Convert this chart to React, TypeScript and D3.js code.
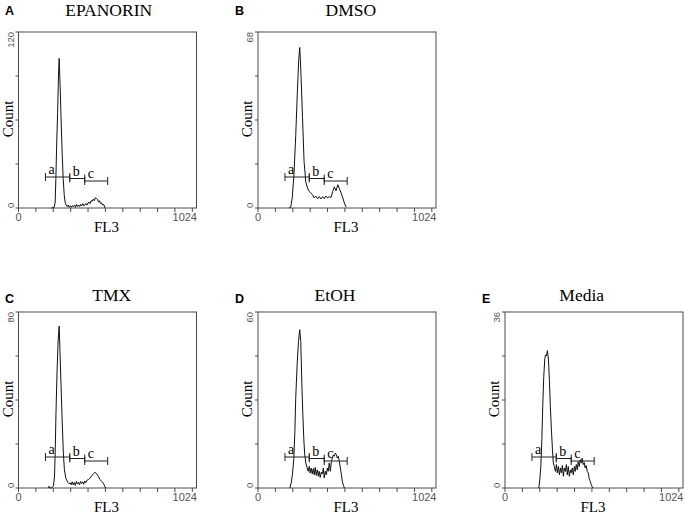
import React from "react";
import * as d3 from "d3";

// ---------- DATA ----------
const panelLetters = ["A", "B", "C", "D", "E"];
const panelTitles = ["EPANORIN", "DMSO", "TMX", "EtOH", "Media"];
const yMaxValues = [120, 68, 80, 60, 36];
const channelMax = 1024;
const xTickValues = [0, 100, 200, 300, 400, 500, 600, 700, 800, 900, 1000];
const xTickLabels = ["0", "1024"];
const xAxisLabel = "FL3";
const yAxisLabel = "Count";

// gates (FL3 channel ranges)
const gateLabels = ["a", "b", "c"];
const gateFrom = [155, 295, 381];
const gateTo = [295, 381, 513];

// histograms: [FL3 channel, count]
const epanorinHist: [number, number][] = [
  [190, 0], [205, 0.5], [211, 4], [215, 20], [220, 45], [225, 65], [230, 90], [234, 102], [239, 85],
  [245, 60], [251, 38], [257, 20], [263, 9], [268, 4], [274, 2], [280, 1], [286, 2], [292, 0.5],
  [298, 1.5], [304, 0.5], [310, 1.5], [316, 1], [322, 2], [328, 0.5], [334, 2.5], [340, 1], [346, 2],
  [352, 1], [358, 2.5], [364, 1.5], [370, 3], [376, 1.5], [382, 2], [388, 3], [394, 2], [400, 3.5],
  [406, 4], [412, 3], [418, 5], [424, 4.5], [430, 6], [436, 5], [442, 7], [448, 6.5], [454, 6],
  [460, 4], [466, 5], [472, 3], [478, 3.5], [484, 2], [490, 2.5], [496, 0.5], [500, 0],
];

const dmsoHist: [number, number][] = [
  [178, 0], [188, 0.3], [197, 3.9], [207, 13], [217, 28], [226, 44], [234, 57], [240, 62], [246, 54],
  [256, 35], [265, 18], [275, 10], [285, 7.7], [294, 6.4], [304, 5.8], [313, 5.2], [323, 3.9],
  [333, 4.6], [343, 3.6], [352, 4.4], [362, 3.5], [372, 4.4], [381, 3.6], [391, 4.6], [401, 3.9],
  [410, 4.4], [420, 4.1], [430, 6.4], [439, 8.2], [449, 6.7], [459, 9], [468, 7.5], [478, 5.8],
  [488, 3.9], [497, 1.9], [507, 0.3],
];

const tmxHist: [number, number][] = [
  [170, 0], [176, 0.8], [182, 0], [190, 0], [201, 1], [207, 5], [211, 16], [216, 35.5], [222, 53.6],
  [228, 67], [234, 73.6], [239, 61], [245, 46], [251, 31], [258, 16], [264, 8.3], [272, 4.5],
  [283, 2.6], [290, 2], [297, 2.3], [303, 1.5], [309, 2.8], [315, 1.4], [321, 2.5], [327, 1.2],
  [333, 3], [339, 1.8], [345, 2.6], [351, 1.5], [357, 3], [363, 2], [369, 2.8], [375, 1.7],
  [381, 3.2], [387, 2.4], [393, 3.5], [402, 3.8], [412, 4.5], [421, 5.6], [431, 6.5], [440, 7.1],
  [450, 6.5], [459, 5.3], [469, 3.8], [479, 3], [488, 2.2], [498, 0.5], [502, 0],
];

const etohHist: [number, number][] = [
  [183, 0], [191, 1.7], [198, 4.5], [206, 10], [212, 19], [217, 30.6], [225, 42], [233, 50], [240, 54],
  [246, 50], [252, 36], [258, 25], [264, 16], [269, 11.3], [275, 8.5], [283, 6.8], [289, 5.7],
  [295, 7.4], [300, 5.1], [306, 6.8], [312, 4.8], [318, 6.6], [323.5, 4.5], [329, 7], [335, 4.3],
  [341, 6.2], [347, 4], [352, 5.7], [358, 3.6], [364, 5.4], [370, 4.8], [376, 6.8], [381, 3.4],
  [387, 5.7], [393, 4.5], [399, 6.8], [404, 5.7], [410, 8.5], [416, 5.7], [422, 9], [428, 10.2],
  [433, 11.3], [439, 10.8], [445, 11.9], [451, 11.3], [456, 10.2], [462, 10.8], [468, 9], [474, 6.8],
  [480, 4.5], [485, 2.3], [491, 0.9], [497, 0],
];

const mediaHist: [number, number][] = [
  [194.5, 0], [200, 1.7], [206, 4.4], [212, 9.9], [217, 16.6], [223, 22.8], [229, 26.5], [233, 27.2],
  [238, 27], [244, 28.1], [250, 26.2], [255.5, 22], [261, 16.6], [267, 11.9], [273, 7.8], [278, 5.1],
  [284, 4.4], [290, 3.4], [296, 4.8], [301, 3.1], [307, 4.4], [313, 2.7], [318.5, 4.1], [324, 3.1],
  [330, 4.6], [336, 2.4], [341, 4.1], [347, 3.4], [353, 4.8], [358.5, 2.7], [364, 4.4], [370, 2.4],
  [376, 3.7], [381, 3.1], [387, 4.1], [393, 2.7], [399, 4.4], [404, 3.4], [410, 4.8], [416, 3.7],
  [421, 5.4], [427, 4.4], [433, 5.8], [439, 5.1], [444, 6.1], [450, 4.8], [456, 5.2], [461, 4.1],
  [467, 4.6], [473, 3.4], [479, 3.1], [484, 2], [490, 1.4], [496, 0.7], [502, 0.2], [507, 0],
];

const histograms = [epanorinHist, dmsoHist, tmxHist, etohHist, mediaHist];

// ---------- LAYOUT ----------
const W = 685;
const H = 513;
const PW = 178;
const PH = 176;
const panelLeft = [18.5, 258, 18.5, 258, 505];
const panelTop = [32, 32, 312, 312, 312];
const titleX = [108.7, 350.8, 111.7, 335, 581.7];
const letterX = [5, 235, 5, 235, 482];
const gateRaise = [31, 29.5, 27];

const SERIF = "'Liberation Serif', 'Times New Roman', serif";
const SANS = "'Liberation Sans', Arial, sans-serif";
const AXIS = "#4a4a4a";
const TICKTXT = "#555";

function Panel({ i }: { i: number }) {
  const left = panelLeft[i];
  const top = panelTop[i];
  const bottom = top + PH;
  const right = left + PW;
  const yMax = yMaxValues[i];
  const x = d3.scaleLinear().domain([0, channelMax]).range([left, right]);
  const y = d3.scaleLinear().domain([0, yMax]).range([bottom, top]);
  const line = d3
    .line<[number, number]>()
    .x((d) => x(d[0]))
    .y((d) => y(d[1]));
  const yTicks = [0, yMax / 4, yMax / 2, (3 * yMax) / 4, yMax];
  const rowTitleY = top === 32 ? 16 : 300.5;
  const letterY = top === 32 ? 15 : 303;
  const cx = (left + right) / 2;
  const cy = (top + bottom) / 2;

  return (
    <g>
      <text x={letterX[i]} y={letterY} fontFamily={SANS} fontWeight="bold" fontSize={12.5} fill="#000">
        {panelLetters[i]}
      </text>
      <text x={titleX[i]} y={rowTitleY} fontFamily={SERIF} fontSize={17.5} textAnchor="middle" fill="#000">
        {panelTitles[i]}
      </text>
      {/* frame */}
      <rect x={left} y={top} width={PW} height={PH} fill="none" stroke={AXIS} strokeWidth={1} />
      {/* x ticks */}
      {xTickValues.map((t) => (
        <line key={"xt" + t} x1={x(t)} x2={x(t)} y1={bottom} y2={bottom + 4} stroke={AXIS} strokeWidth={1} />
      ))}
      {/* y ticks */}
      {yTicks.map((t, k) => (
        <line key={"yt" + k} x1={left - 3} x2={left} y1={y(t)} y2={y(t)} stroke={AXIS} strokeWidth={1} />
      ))}
      {/* x tick labels */}
      <text x={x(0)} y={bottom + 13} fontFamily={SANS} fontSize={11} textAnchor="middle" fill={TICKTXT}>
        {xTickLabels[0]}
      </text>
      <text x={right + 0.5} y={bottom + 13} fontFamily={SANS} fontSize={11} textAnchor="end" fill={TICKTXT}>
        {xTickLabels[1]}
      </text>
      {/* y tick labels (rotated) */}
      <text
        transform={`translate(${left - 5},${y(yMax)}) rotate(-90)`}
        fontFamily={SANS}
        fontSize={9.5}
        textAnchor="end"
        fill={TICKTXT}
      >
        {String(yMax)}
      </text>
      <text
        transform={`translate(${left - 5},${y(0)}) rotate(-90)`}
        fontFamily={SANS}
        fontSize={9.5}
        textAnchor="start"
        fill={TICKTXT}
      >
        0
      </text>
      {/* axis titles */}
      <text x={cx - 1} y={bottom + 23.5} fontFamily={SERIF} fontSize={15} textAnchor="middle" fill="#000">
        {xAxisLabel}
      </text>
      <text
        transform={`translate(${left - 6},${cy - 1}) rotate(-90)`}
        fontFamily={SERIF}
        fontSize={15}
        textAnchor="middle"
        fill="#000"
      >
        {yAxisLabel}
      </text>
      {/* histogram */}
      <path d={line(histograms[i]) || ""} fill="none" stroke="#111" strokeWidth={1} strokeLinejoin="round" />
      {/* gates */}
      {gateLabels.map((g, k) => {
        const gy = bottom - gateRaise[k];
        const x1 = x(gateFrom[k]);
        const x2 = x(gateTo[k]);
        return (
          <g key={g}>
            <line x1={x1} x2={x2} y1={gy} y2={gy} stroke="#222" strokeWidth={1} />
            <line x1={x1} x2={x1} y1={gy - 4} y2={gy + 4} stroke="#222" strokeWidth={1} />
            <line x1={x2} x2={x2} y1={gy - 4} y2={gy + 4} stroke="#222" strokeWidth={1} />
            <text x={x1 + 3} y={gy - 3} fontFamily={SERIF} fontSize={14} fill="#000">
              {g}
            </text>
          </g>
        );
      })}
    </g>
  );
}

export default function App() {
  return (
    <svg
      width={W}
      height={H}
      viewBox={`0 0 ${W} ${H}`}
      style={{ position: "absolute", left: 0, top: 0, background: "#fff" }}
    >
      <rect x={0} y={0} width={W} height={H} fill="#fff" />
      {panelTitles.map((_, i) => (
        <Panel key={i} i={i} />
      ))}
    </svg>
  );
}
